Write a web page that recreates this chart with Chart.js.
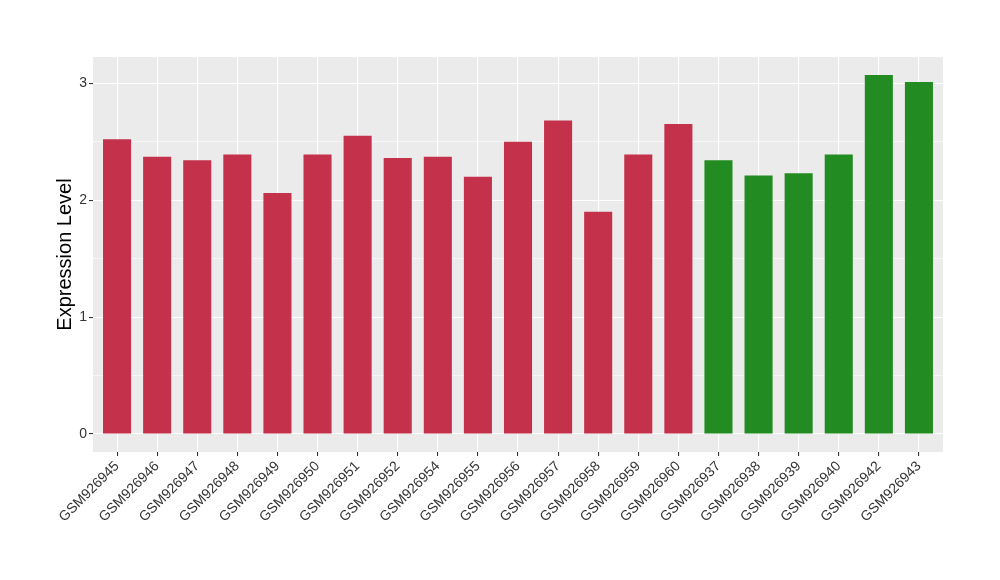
<!DOCTYPE html>
<html lang="en">
<head>
    <meta charset="UTF-8">
    <title>Expression Level</title>
    <style>
        html, body { margin: 0; padding: 0; background: #fff; }
        #wrap { width: 1000px; height: 580px; }
    </style>
    <script src="https://cdn.jsdelivr.net/npm/chart.js"></script>
</head>
<body>
    <div id="wrap"><canvas id="barChart" width="1000" height="580"></canvas></div>

    <script>
        // Samples, in plotted order
        var samples = ['GSM926945', 'GSM926946', 'GSM926947', 'GSM926948', 'GSM926949', 'GSM926950',
                       'GSM926951', 'GSM926952', 'GSM926954', 'GSM926955', 'GSM926956', 'GSM926957',
                       'GSM926958', 'GSM926959', 'GSM926960', 'GSM926937', 'GSM926938', 'GSM926939',
                       'GSM926940', 'GSM926942', 'GSM926943'];
        // Expression values
        var levels = [2.52, 2.37, 2.34, 2.39, 2.06, 2.39, 2.55, 2.36, 2.37, 2.20, 2.50, 2.68,
                      1.90, 2.39, 2.65, 2.34, 2.21, 2.23, 2.39, 3.07, 3.01];
        // group of each sample (0 = red, 1 = green)
        var groups = [0, 0, 0, 0, 0, 0, 0, 0, 0, 0, 0, 0, 0, 0, 0, 1, 1, 1, 1, 1, 1];
        var groupColors = ['#C3314A', '#228B22'];
        var yTicks = [0, 0.5, 1, 1.5, 2, 2.5, 3];

        // grey panel behind the plot
        var panelBg = {
            id: 'panelBg',
            beforeDraw: function (chart) {
                var a = chart.chartArea, c = chart.ctx;
                c.save();
                c.fillStyle = '#EBEBEB';
                c.fillRect(a.left, a.top, a.right - a.left, a.bottom - a.top);
                c.restore();
            }
        };

        var points = [];
        for (var i = 0; i < samples.length; i++) {
            points.push({ x: i, y: levels[i] });
        }

        var ctx = document.getElementById('barChart').getContext('2d');
        new Chart(ctx, {
            type: 'bar',
            data: {
                datasets: [{
                    data: points,
                    backgroundColor: groups.map(function (g) { return groupColors[g]; }),
                    borderWidth: 0,
                    barPercentage: 0.7,
                    categoryPercentage: 1.0
                }]
            },
            options: {
                responsive: false,
                animation: false,
                layout: { padding: { top: 57, right: 57, left: 0, bottom: 0 } },
                plugins: {
                    legend: { display: false },
                    tooltip: { enabled: false }
                },
                scales: {
                    x: {
                        type: 'linear',
                        min: -0.6,
                        max: 20.6,
                        offset: false,
                        afterBuildTicks: function (scale) {
                            scale.ticks = samples.map(function (s, i) { return { value: i }; });
                        },
                        afterFit: function (scale) { scale.height = 128; },
                        border: { display: false },
                        grid: {
                            offset: false,
                            color: '#FFFFFF',
                            lineWidth: 1.1,
                            tickColor: '#333333',
                            tickLength: 4
                        },
                        ticks: {
                            autoSkip: false,
                            maxRotation: 45,
                            minRotation: 45,
                            padding: 2,
                            color: '#333333',
                            font: { family: 'Liberation Sans', size: 14 },
                            callback: function (v) { return samples[v]; }
                        }
                    },
                    y: {
                        min: -0.154,
                        max: 3.224,
                        afterBuildTicks: function (scale) {
                            scale.ticks = yTicks.map(function (v) { return { value: v }; });
                        },
                        afterFit: function (scale) { scale.width = 93; },
                        border: { display: false },
                        grid: {
                            color: '#FFFFFF',
                            lineWidth: function (c) { return c.tick && c.tick.value % 1 === 0 ? 1.1 : 0.55; },
                            tickColor: function (c) { return c.tick && c.tick.value % 1 === 0 ? '#333333' : 'rgba(0,0,0,0)'; },
                            tickLength: 4
                        },
                        ticks: {
                            padding: 2,
                            color: '#333333',
                            font: { family: 'Liberation Sans', size: 14 },
                            callback: function (v) { return v % 1 === 0 ? String(v) : ''; }
                        },
                        title: {
                            display: true,
                            text: 'Expression Level',
                            color: '#000000',
                            font: { family: 'Liberation Sans', size: 20 },
                            padding: { top: 53, bottom: 0 }
                        }
                    }
                }
            },
            plugins: [panelBg]
        });
    </script>
</body>
</html>
